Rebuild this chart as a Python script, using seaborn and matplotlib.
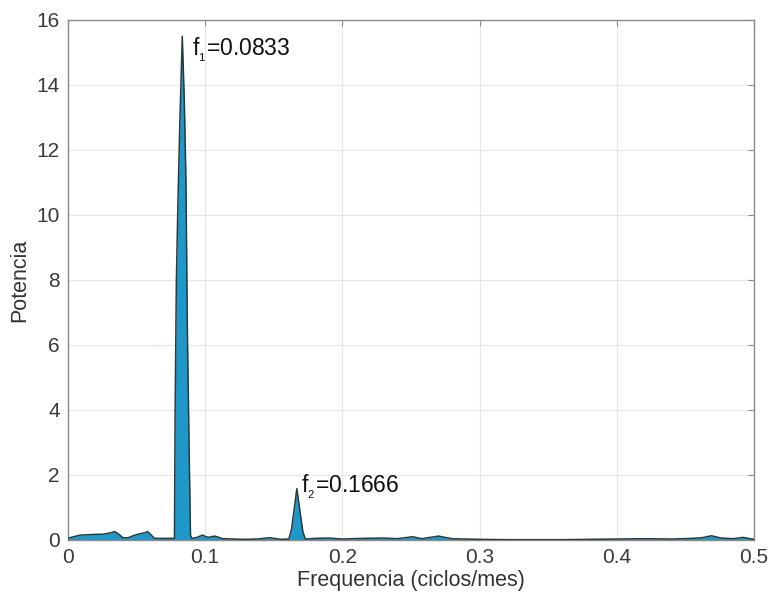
import matplotlib
matplotlib.use("Agg")
import matplotlib.pyplot as plt
import pandas as pd
import seaborn as sns

# power spectrum (frequency in ciclos/mes)
freq = [
    0.000, 0.004, 0.009, 0.018, 0.026, 0.031, 0.034, 0.037, 0.040, 0.044,
    0.048, 0.052, 0.056, 0.058, 0.060, 0.063, 0.068, 0.073, 0.0776,
    0.0781, 0.0790, 0.0802, 0.0815, 0.0833, 0.0848, 0.0860, 0.0870, 0.0884,
    0.0893, 0.0903, 0.094, 0.098, 0.102, 0.107, 0.113, 0.120, 0.128, 0.138,
    0.147, 0.155, 0.1610, 0.1630, 0.1650, 0.1668, 0.1690, 0.1712, 0.1730,
    0.180, 0.190, 0.200, 0.215, 0.230, 0.240, 0.251, 0.258, 0.270, 0.280,
    0.300, 0.320, 0.340, 0.360, 0.380, 0.400, 0.420, 0.440, 0.455, 0.462,
    0.469, 0.476, 0.485, 0.492, 0.500,
]
power = [
    0.05, 0.10, 0.15, 0.17, 0.18, 0.22, 0.26, 0.18, 0.07, 0.07,
    0.14, 0.19, 0.22, 0.26, 0.18, 0.05, 0.05, 0.05, 0.05,
    4.0, 8.0, 10.5, 12.8, 15.5, 13.5, 11.0, 6.5, 2.5,
    0.15, 0.05, 0.08, 0.15, 0.08, 0.12, 0.04, 0.03, 0.02, 0.03,
    0.07, 0.02, 0.03, 0.35, 1.0, 1.58, 0.9, 0.25, 0.03,
    0.05, 0.06, 0.03, 0.05, 0.06, 0.04, 0.10, 0.04, 0.12, 0.04,
    0.02, 0.01, 0.01, 0.01, 0.02, 0.03, 0.04, 0.03, 0.05, 0.07,
    0.13, 0.06, 0.04, 0.08, 0.02,
]

peak_names = ["f", "f"]
peak_subs = ["1", "2"]
peak_values = ["=0.0833", "=0.1666"]
label_pos = [(0.0905, 15.1), (0.1700, 1.65)]

x_ticks = [0, 0.1, 0.2, 0.3, 0.4, 0.5]
x_tick_labels = ["0", "0.1", "0.2", "0.3", "0.4", "0.5"]
y_ticks = [0, 2, 4, 6, 8, 10, 12, 14, 16]

df = pd.DataFrame({"freq": freq, "power": power})

sns.set_style("whitegrid")
plt.rcParams["font.family"] = ["Liberation Sans", "DejaVu Sans"]
plt.rcParams["mathtext.fontset"] = "custom"
plt.rcParams["mathtext.rm"] = "Liberation Sans"

fig = plt.figure(figsize=(7.69, 6.02), dpi=100)
ax = fig.add_axes([0.0884, 0.103, 0.8921, 0.8638])

ax.fill_between(df["freq"], df["power"], 0, color="#1E98C8", lw=0, zorder=2)
sns.lineplot(df, x="freq", y="power", ax=ax, color="#2B3A3E", lw=1.1, zorder=3)

# labels with a tiny subscript, as in the original
for (tx, ty), name, sub, val in zip(label_pos, peak_names, peak_subs, peak_values):
    lab = name + r"$_{\mathregular{_{" + sub + r"}}}$" + val
    ax.text(tx, ty, lab, fontsize=16.5, color="#111111", va="center", ha="left")

ax.set_xlim(0, 0.5)
ax.set_ylim(0, 16)
ax.set_xticks(x_ticks)
ax.set_xticklabels(x_tick_labels)
ax.set_yticks(y_ticks)

ax.grid(True, color="#e6e6e6", lw=0.8)
for s in ax.spines.values():
    s.set_visible(True)
    s.set_color("#8a8a8a")
    s.set_linewidth(1.0)

ax.tick_params(direction="in", length=4, width=0.8, color="#8a8a8a",
               top=True, right=True, labelsize=15, labelcolor="#3a3a3a")
ax.tick_params(axis="x", pad=6)
ax.tick_params(axis="y", pad=6)

ax.set_xlabel("Frequencia (ciclos/mes)", fontsize=15.5, color="#333333", labelpad=2)
ax.set_ylabel("Potencia", fontsize=15.5, color="#333333", labelpad=4)

fig.savefig("out.png", dpi=100)
plt.close(fig)
